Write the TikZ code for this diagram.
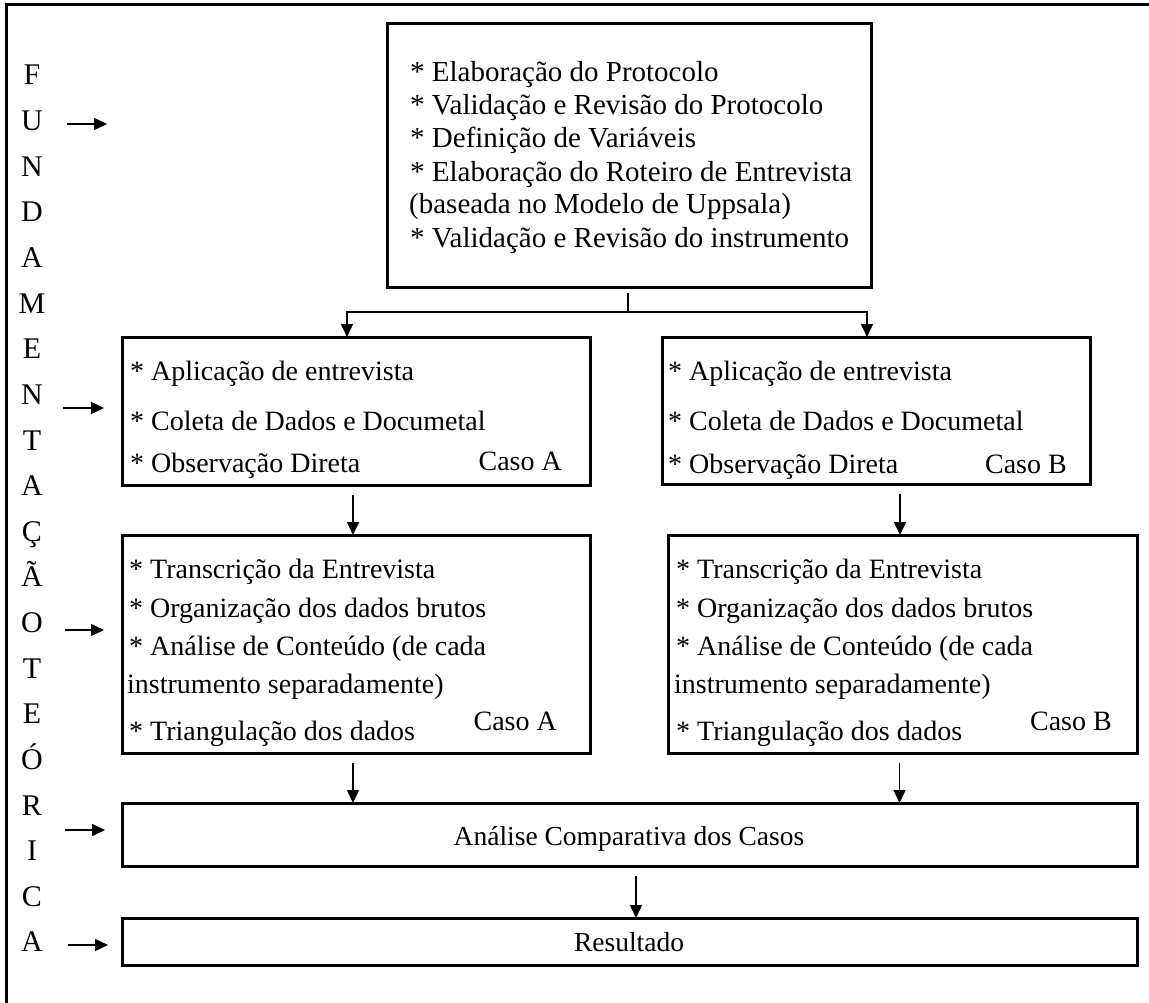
\documentclass[tikz,border=0pt]{standalone}
\usepackage{fontspec}
\setmainfont{Liberation Serif}
\usetikzlibrary{arrows.meta}
\begin{document}
\begin{tikzpicture}[x=1pt,y=-1pt,
  box/.style={draw, line width=3pt, inner sep=0pt, outer sep=0pt, anchor=north west},
  txt/.style={anchor=base west, inner sep=0pt, font=\fontsize{28}{33}\selectfont},
  ttxt/.style={anchor=base west, inner sep=0pt, font=\fontsize{29}{33}\selectfont},
  caso/.style={anchor=base east, inner sep=0pt, font=\fontsize{28}{33}\selectfont},
  ctxt/.style={inner sep=0pt, font=\fontsize{27.5}{32}\selectfont},
  letter/.style={anchor=base, inner sep=0pt, font=\fontsize{30}{36}\selectfont},
  conn/.style={line width=1.5pt},
  arr/.style={conn, -{Triangle[length=13pt,width=12pt]}},
]
\useasboundingbox (0,0) rectangle (1149,1003);
% outer frame (only left and top edges visible)
\draw[line width=3pt] (6,1003) -- (6,5) -- (1149,5);

% boxes
\node[box, minimum width=484pt, minimum height=263pt] (top) at (387,24) {};
\node[box, minimum width=468pt, minimum height=148pt] (A1) at (122,337) {};
\node[box, minimum width=428pt, minimum height=147pt] (B1) at (662,337) {};
\node[box, minimum width=468pt, minimum height=218pt] (A2) at (122,535) {};
\node[box, minimum width=469pt, minimum height=218pt] (B2) at (668,535) {};
\node[box, minimum width=1015pt, minimum height=63pt] (cmp) at (122,803) {};
\node[box, minimum width=1015pt, minimum height=47pt] (res) at (122,918) {};

% top box text
\node[ttxt] (t1) at (410,82) {* Elaboração do Protocolo};
\node[ttxt] (t2) at (410,115) {* Validação e Revisão do Protocolo};
\node[ttxt] (t3) at (410,148) {* Definição de Variáveis};
\node[ttxt] (t4) at (410,182) {* Elaboração do Roteiro de Entrevista};
\node[ttxt] (t5) at (409,214) {(baseada no Modelo de Uppsala)};
\node[ttxt] (t6) at (410,248) {* Validação e Revisão do instrumento};

% A1 text
\node[txt] (a11) at (130,380) {* Aplicação de entrevista};
\node[txt] (a12) at (130,430) {* Coleta de Dados e Documetal};
\node[txt] (a13) at (130,472) {* Observação Direta};
\node[caso] (a1c) at (562,470) {Caso A};

% B1 text
\node[txt] (b11) at (668,380) {* Aplicação de entrevista};
\node[txt] (b12) at (668,430) {* Coleta de Dados e Documetal};
\node[txt] (b13) at (668,473) {* Observação Direta};
\node[caso] (b1c) at (1067,473) {Caso B};

% A2 text
\node[txt] (a21) at (129,578) {* Transcrição da Entrevista};
\node[txt] (a22) at (129,617) {* Organização dos dados brutos};
\node[txt] (a23) at (129,655) {* Análise de Conteúdo (de cada};
\node[txt] (a24) at (127,693) {instrumento separadamente)};
\node[txt] (a25) at (129,740) {* Triangulação dos dados};
\node[caso] (a2c) at (557,730) {Caso A};

% B2 text
\node[txt] (b21) at (676,578) {* Transcrição da Entrevista};
\node[txt] (b22) at (676,617) {* Organização dos dados brutos};
\node[txt] (b23) at (676,655) {* Análise de Conteúdo (de cada};
\node[txt] (b24) at (674,693) {instrumento separadamente)};
\node[txt] (b25) at (676,740) {* Triangulação dos dados};
\node[caso] (b2c) at (1112,730) {Caso B};

% bottom texts
\node[ctxt, anchor=base] (cmpt) at (629,845) {Análise Comparativa dos Casos};
\node[ctxt, anchor=base] (rest) at (629,951) {Resultado};

% vertical word
\foreach \l [count=\i from 0] in {F,U,N,D,A,M,E,N,T,A,Ç,Ã,O,T,E,Ó,R,I,C,A}
  \node[letter] (L\i) at (32,{85+45.63*\i}) {\l};

% connectors
\coordinate (split) at (628,312);
\draw[conn] ([yshift=-6pt]top.south -| split) -- (split);
\draw[arr] (split) -| ([xshift=-9pt]A1.north);
\draw[arr] (split) -| ([xshift=-9pt]B1.north);
\draw[arr] ([xshift=-3pt,yshift=-10pt]A1.south) -- ([xshift=-3pt]A1.south |- A2.north);
\draw[arr] ([yshift=-10pt]B1.south -| 900,0) -- (A2.north -| 900,0);
\draw[arr] ([xshift=-3pt,yshift=-10pt]A2.south) -- ([xshift=-3pt]A2.south |- cmp.north);
\draw[arr] ([xshift=-3pt,yshift=-10pt]B2.south) -- ([xshift=-3pt]B2.south |- cmp.north);
\draw[arr] ([yshift=-10pt]cmp.south -| 636,0) -- (res.north -| 636,0);

% side arrows
\coordinate (s1a) at (67,124);  \coordinate (s1b) at (107,124);
\coordinate (s2a) at (63,408);  \coordinate (s2b) at (104,408);
\coordinate (s3a) at (65,630);  \coordinate (s3b) at (104,630);
\coordinate (s4a) at (65,830);  \coordinate (s4b) at (105,830);
\coordinate (s5a) at (68,945);  \coordinate (s5b) at (108,945);
\foreach \k in {1,...,5} \draw[arr] (s\k a) -- (s\k b);
\end{tikzpicture}
\end{document}
